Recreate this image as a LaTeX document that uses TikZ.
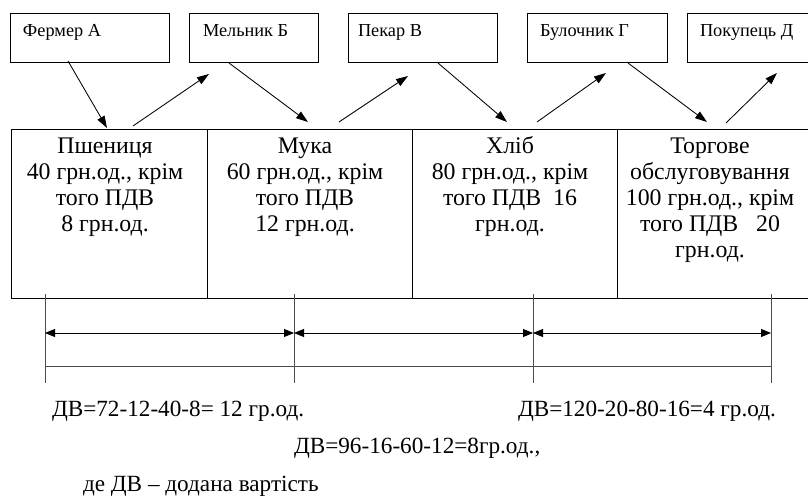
\documentclass[tikz,border=0pt]{standalone}
\usepackage{fontspec}
\setmainfont{Liberation Serif}
\newfontfamily\tnr{Liberation Serif}
\usetikzlibrary{arrows.meta,calc}
\begin{document}
\begin{tikzpicture}[x=1pt,y=-1pt,
  every node/.style={inner sep=0pt, outer sep=0pt},
  topbox/.style={draw, line width=0.8pt, anchor=north west, minimum height=49pt},
  toplabel/.style={anchor=base west, font=\tnr\fontsize{18.3}{21}\selectfont},
  cell/.style={draw, line width=0.8pt, anchor=north west, minimum height=169pt},
  celltext/.style={anchor=north, align=center, font=\tnr\fontsize{23.8}{26}\selectfont},
  note/.style={anchor=base west, font=\tnr\fontsize{23.2}{26}\selectfont},
  flow/.style={-{Triangle[length=12pt,width=8pt]}, line width=0.85pt},
  dimarrow/.style={{Triangle[length=10pt,width=8pt]}-{Triangle[length=10pt,width=8pt]}, line width=0.85pt},
  ticklinestyle/.style={line width=0.8pt, black!70}
]
\useasboundingbox (0,0) rectangle (808,502);
\clip (0,0) rectangle (808,502);

% top boxes
\node[topbox, minimum width=159pt] (A) at (10,13) {};
\node[topbox, minimum width=129pt] (B) at (189,13) {};
\node[topbox, minimum width=149pt] (V) at (348,13) {};
\node[topbox, minimum width=140pt] (G) at (527,13) {};
\node[topbox, minimum width=140pt] (D) at (687,13) {};
\node[toplabel] (Al) at (23,37) {Фермер А};
\node[toplabel] (Bl) at (203,37) {Мельник Б};
\node[toplabel] (Vl) at (358,37) {Пекар В};
\node[toplabel] (Gl) at (540,37) {Булочник Г};
\node[toplabel] (Dl) at (700,37) {Покупець Д};

% main row
\node[cell, minimum width=196pt] (c1) at (11,129) {};
\node[cell, minimum width=205pt] (c2) at (207,129) {};
\node[cell, minimum width=205pt] (c3) at (412,129) {};
\node[cell, minimum width=205pt] (c4) at (617,129) {};
\node[celltext] (t1) at (105,135.5) {\strut Пшениця\\40 грн.од., крім\\того ПДВ\\8 грн.од.};
\node[celltext] (t2) at (305,135.5) {\strut Мука\\60 грн.од., крім\\того ПДВ\\12 грн.од.};
\node[celltext] (t3) at (510,135.5) {\strut Хліб\\80 грн.од., крім\\того ПДВ\ \ 16\\грн.од.};
\node[celltext] (t4) at (710,135.5) {\strut Торгове\\обслуговування\\100 грн.од., крім\\того ПДВ\ \ \ 20\\грн.од.};

% flow arrows
\coordinate (f1s) at (68,61);   \coordinate (f1e) at (107,128);
\coordinate (f2s) at (133,126); \coordinate (f2e) at (209,74);
\coordinate (f3s) at (229,63);  \coordinate (f3e) at (308,122);
\coordinate (f4s) at (339,122); \coordinate (f4e) at (408,76);
\coordinate (f5s) at (438,63);  \coordinate (f5e) at (507,122);
\coordinate (f6s) at (537,122); \coordinate (f6e) at (606,73);
\coordinate (f7s) at (628,63);  \coordinate (f7e) at (707,122);
\coordinate (f8s) at (726,123); \coordinate (f8e) at (777,73);
\foreach \i in {1,...,8} {\draw[flow] (f\i s) -- (f\i e);}

% dimension lines
\coordinate (k1t) at (45,294);  \coordinate (k1b) at (45,383);
\coordinate (k2t) at (294,294); \coordinate (k2b) at (294,383);
\coordinate (k3t) at (533,294); \coordinate (k3b) at (533,383);
\coordinate (k4t) at (771,294); \coordinate (k4b) at (771,383);
\foreach \i in {1,...,4} {\draw[ticklinestyle] (k\i t) -- (k\i b);}
\coordinate (d1) at (45,333);
\coordinate (d2) at (294,333);
\coordinate (d3) at (533,333);
\coordinate (d4) at (771,333);
\draw[dimarrow] (d1) -- (d2);
\draw[dimarrow] (d2) -- (d3);
\draw[dimarrow] (d3) -- (d4);
\coordinate (l1) at (45,366);
\coordinate (l2) at (771,366);
\draw[ticklinestyle] (l1) -- (l2);

% notes
\node[note] (n1) at (52,416) {ДВ=72-12-40-8= 12 гр.од.};
\node[note] (n2) at (518,416) {ДВ=120-20-80-16=4 гр.од.};
\node[note] (n3) at (294,453) {ДВ=96-16-60-12=8гр.од.,};
\node[note] (n4) at (83,491) {де ДВ – додана вартість};
\end{tikzpicture}
\end{document}
